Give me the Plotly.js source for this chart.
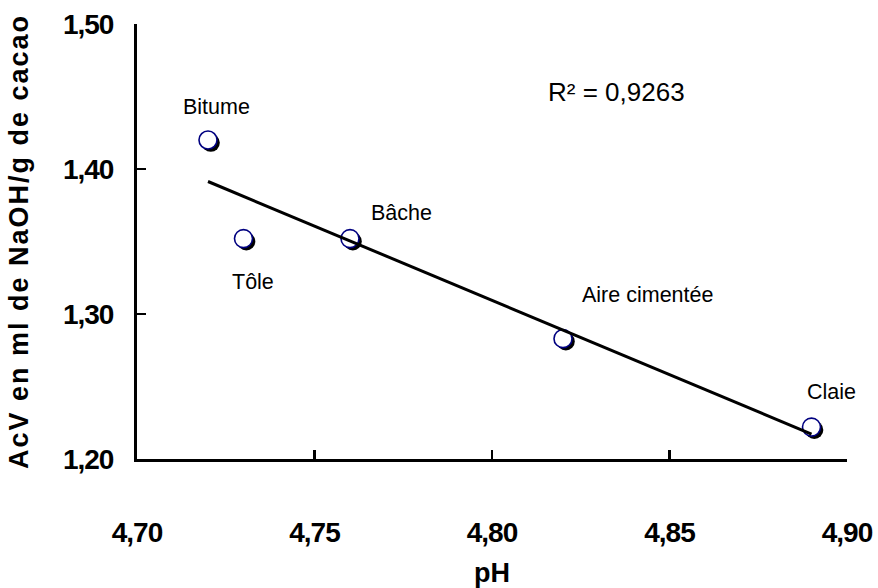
<!DOCTYPE html>
<html>
<head>
<meta charset="utf-8">
<script src="https://cdn.plot.ly/plotly-3.0.1.min.js"></script>
<style>
  html, body { margin: 0; padding: 0; background: #fff; }
  #chart { width: 878px; height: 588px; }
  .ytitle { letter-spacing: 2px; }
  .xtick text, .ytick text { letter-spacing: -1px; }
</style>
</head>
<body>
<div id="chart"></div>
<script>
// ---- data ----
const sites = ["Bitume", "Tôle", "Bâche", "Aire cimentée", "Claie"];
const pH = [4.72, 4.73, 4.76, 4.82, 4.89];
const acv = [1.420, 1.352, 1.352, 1.283, 1.222];
const r2Label = "R² = 0,9263";
const xTicks = [4.70, 4.75, 4.80, 4.85, 4.90];
const yTicks = [1.20, 1.30, 1.40, 1.50];

// ---- layout constants ----
const W = 878, H = 588;
const M = {l: 137, r: 31, t: 24, b: 129};
const xRange = [4.70, 4.90], yRange = [1.20, 1.50];
const plotW = W - M.l - M.r, plotH = H - M.t - M.b;

// least-squares trend line
const n = pH.length;
const mx = pH.reduce((a, b) => a + b, 0) / n;
const my = acv.reduce((a, b) => a + b, 0) / n;
let sxy = 0, sxx = 0;
for (let i = 0; i < n; i++) { sxy += (pH[i] - mx) * (acv[i] - my); sxx += (pH[i] - mx) ** 2; }
const slope = sxy / sxx, icpt = my - slope * mx;
const tx = [Math.min(...pH), Math.max(...pH)];
const ty = tx.map(v => icpt + slope * v);

// shadow offset (pixels -> data units)
const offPx = 2.8;
const dx = offPx * (xRange[1] - xRange[0]) / plotW;
const dy = -offPx * (yRange[1] - yRange[0]) / plotH;

const traces = [
  { x: pH.map(v => v + dx), y: acv.map(v => v + dy), mode: "markers", type: "scatter",
    marker: {size: 18, color: "#000000", line: {width: 0}}, hoverinfo: "skip" },
  { x: pH, y: acv, mode: "markers", type: "scatter", text: sites,
    marker: {size: 18, color: "#ffffff", line: {width: 1.6, color: "#000080"}} },
  { x: tx, y: ty, mode: "lines", type: "scatter",
    line: {color: "#000000", width: 3} }
];

const FAM = "Liberation Sans, Arial, sans-serif";
const labelFont = {family: FAM, size: 21.5, color: "#000"};
const labelPos = [
  [4.7225, 1.4428], [4.7327, 1.3221], [4.7746, 1.3697], [4.8437, 1.3131], [4.8955, 1.2462]
];
const annotations = sites.map((s, i) => ({
  x: labelPos[i][0], y: labelPos[i][1], xref: "x", yref: "y",
  text: s, showarrow: false, font: labelFont, xanchor: "center", yanchor: "middle"
}));
annotations.push({
  x: 4.8352, y: 1.4531, xref: "x", yref: "y", text: r2Label, showarrow: false,
  font: {family: FAM, size: 26, color: "#000"},
  xanchor: "center", yanchor: "middle"
});

const tickFont = {family: FAM, size: 28, color: "#000", weight: 700};

const layout = {
  width: W, height: H,
  margin: M,
  paper_bgcolor: "#fff", plot_bgcolor: "#fff",
  showlegend: false,
  separators: ", ",
  xaxis: {
    range: xRange, tickvals: xTicks, tickformat: ".2f",
    showgrid: false, zeroline: false,
    showline: true, linecolor: "#000", linewidth: 3,
    ticks: "inside", ticklen: 9, tickwidth: 2.5, tickcolor: "#000",
    tickfont: tickFont, ticklabelstandoff: 46,
    title: {text: "pH", font: {family: FAM, size: 27, color: "#000", weight: 700}, standoff: 22}
  },
  yaxis: {
    range: yRange, tickvals: yTicks, tickformat: ".2f",
    showgrid: false, zeroline: false,
    showline: true, linecolor: "#000", linewidth: 3,
    ticks: "inside", ticklen: 9, tickwidth: 2.5, tickcolor: "#000",
    tickfont: tickFont, ticklabelstandoff: 15,
    title: {text: "AcV en ml de NaOH/g de cacao", font: {family: FAM, size: 27, color: "#000", weight: 700}, standoff: 27}
  },
  annotations: annotations
};

Plotly.newPlot("chart", traces, layout, {displayModeBar: false, staticPlot: true});
</script>
</body>
</html>
